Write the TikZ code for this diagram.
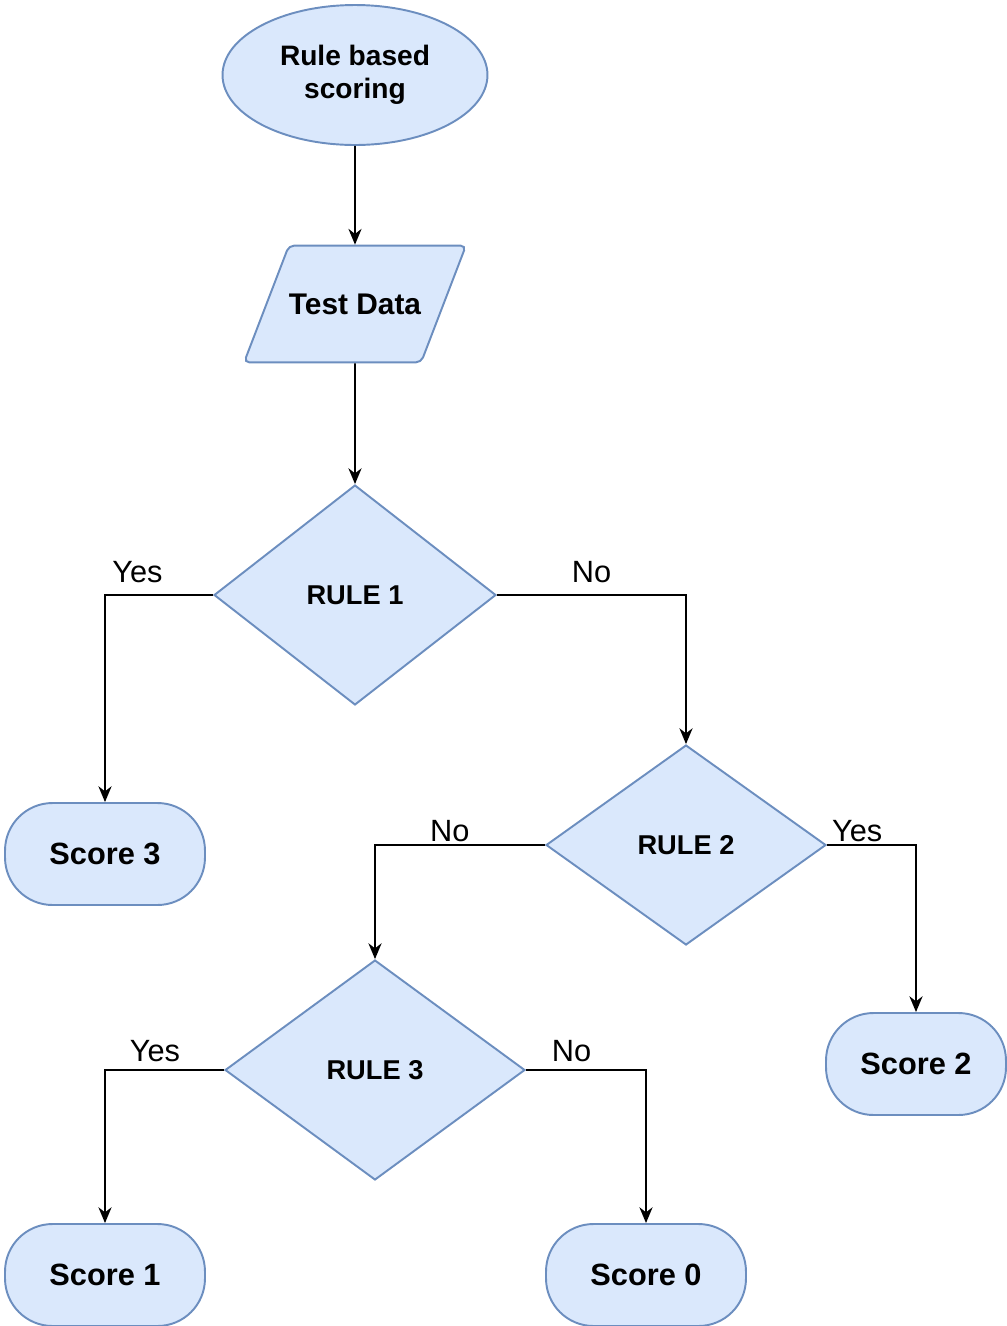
\documentclass[tikz,border=0pt]{standalone}
\usepackage{fontspec}
\setmainfont{Liberation Sans}
\usetikzlibrary{shapes.geometric,arrows.meta}
\definecolor{boxfill}{HTML}{DAE8FC}
\definecolor{boxline}{HTML}{6C8EBF}
\tikzset{every path/.style={semithick},
  box/.style={draw=boxline,fill=boxfill,line width=1.1pt},
  startnode/.style={box,ellipse,minimum width=5.3cm,minimum height=2.8cm,align=center,font=\fontsize{16}{19}\selectfont\bfseries},
  datanode/.style={box,trapezium,trapezium left angle=69,trapezium right angle=111,rounded corners=3pt,inner xsep=0pt,inner ysep=27.3pt,font=\fontsize{17}{20}\selectfont\bfseries},
  rulenode/.style={box,diamond,inner sep=0pt,font=\fontsize{15.5}{18}\selectfont\bfseries},
  scorenode/.style={box,rectangle,rounded corners=0.95cm,minimum width=4cm,minimum height=2.04cm,font=\fontsize{17.5}{21}\selectfont\bfseries},
  flow/.style={-{Stealth[length=9pt,width=7.5pt]},line width=0.9pt,black},
  answer/.style={above,font=\fontsize{17.5}{20}\selectfont}
}

\begin{document}
\begin{tikzpicture}[x=0.02cm,y=-0.02cm]
  \useasboundingbox (0,0) rectangle (1007,1326);

  \node[startnode] (START) at (355,75) {Rule based\\scoring};
  \node[datanode] (DATA) at (355,304) {Test Data};
  \node[rulenode,minimum width=5.64cm,minimum height=4.4cm] (RULE1) at (355,595) {RULE 1};
  \node[rulenode,minimum width=5.6cm,minimum height=4cm] (RULE2) at (686,845) {RULE 2};
  \node[rulenode,minimum width=6cm,minimum height=4.4cm] (RULE3) at (375,1070) {RULE 3};
  \node[scorenode] (SCORE3) at (105,854) {Score 3};
  \node[scorenode,minimum width=3.6cm] (SCORE2) at (916,1064) {Score 2};
  \node[scorenode] (SCORE1) at (105,1275) {Score 1};
  \node[scorenode] (SCORE0) at (646,1275) {Score 0};

  \draw[flow] (START) -- (DATA);
  \draw[flow] (DATA) -- (RULE1);
  \draw[flow] (RULE1.west) -| node[answer,pos=0.35,yshift=3pt] {Yes} (SCORE3.north);
  \draw[flow] (RULE1.east) -| node[answer,pos=0.25,yshift=3pt] {No} (RULE2.north);
  \draw[flow] (RULE2.west) -| node[answer,pos=0.28,yshift=-2pt] {No} (RULE3.north);
  \draw[flow] (RULE2.east) -| node[answer,pos=0.17,yshift=-2pt] {Yes} (SCORE2.north);
  \draw[flow] (RULE3.west) -| node[answer,pos=0.29,yshift=1pt] {Yes} (SCORE1.north);
  \draw[flow] (RULE3.east) -| node[answer,pos=0.19,yshift=1pt] {No} (SCORE0.north);
\end{tikzpicture}
\end{document}
